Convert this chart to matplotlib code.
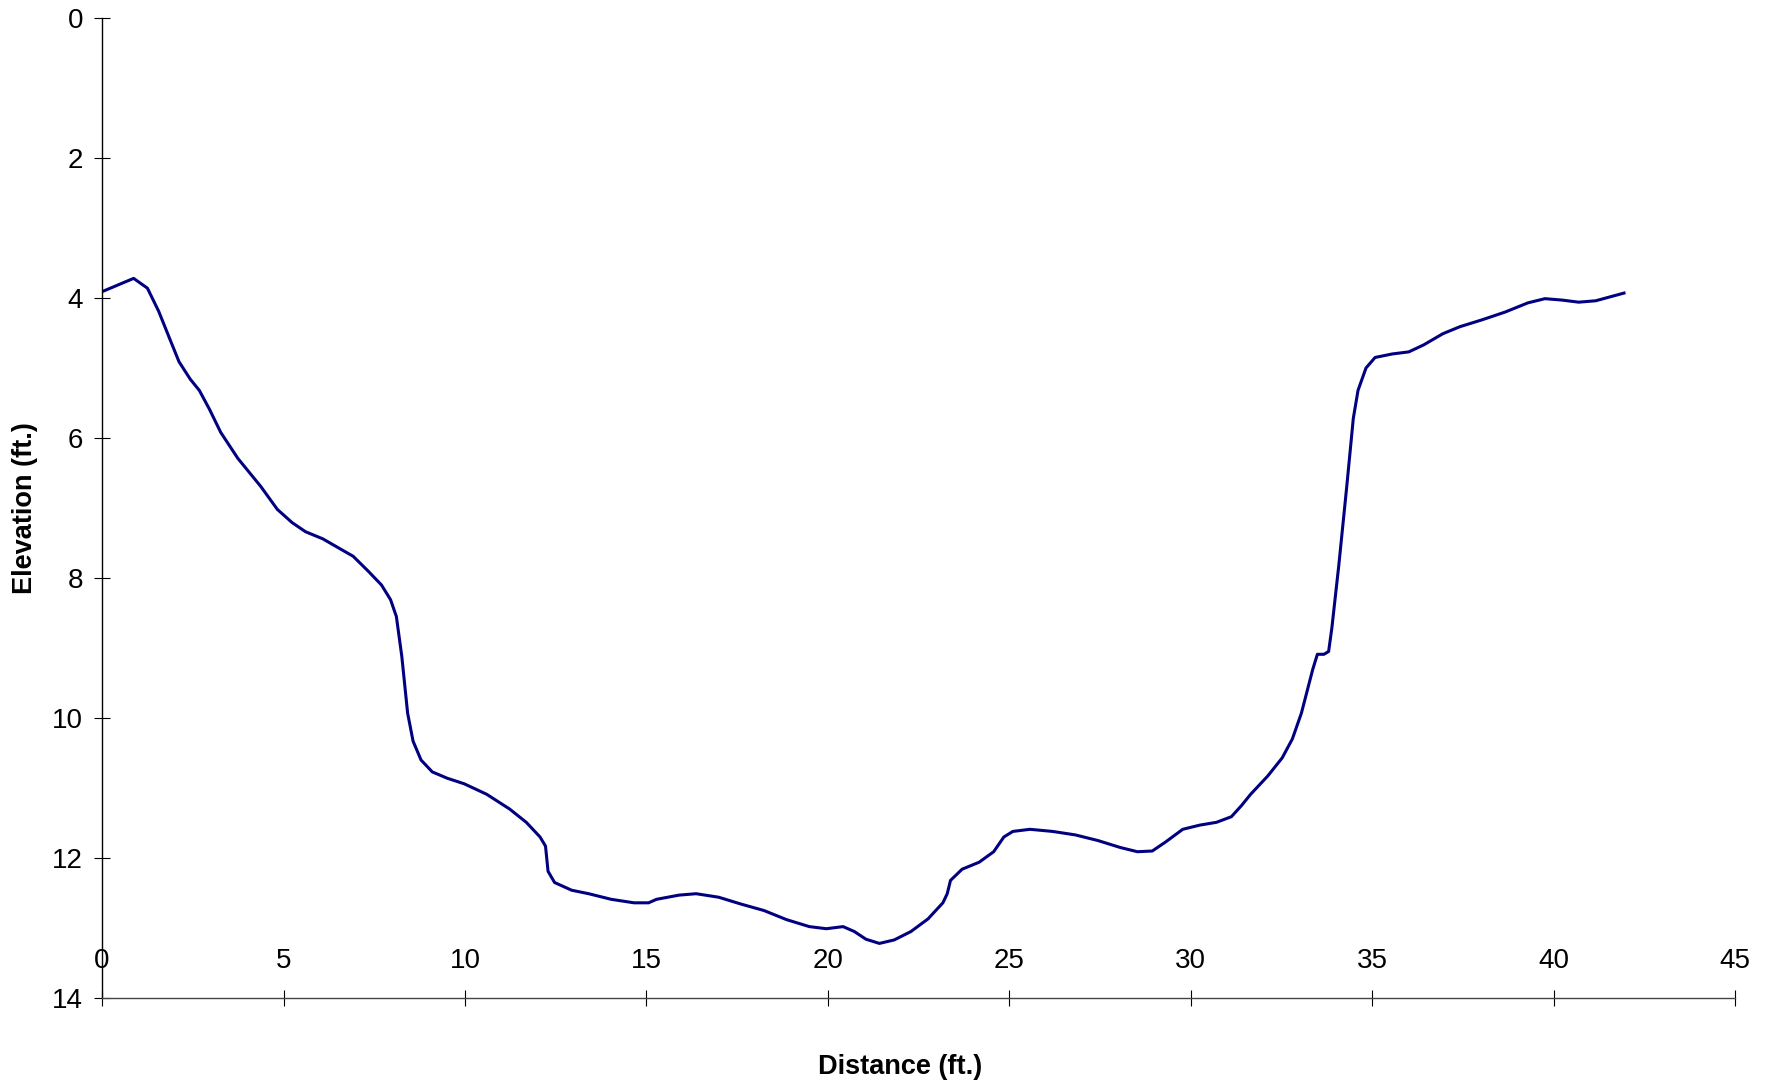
import numpy as np
import matplotlib
matplotlib.use("Agg")
from matplotlib import pyplot as plt

# cross-section profile
distance = [0.00, 0.87, 1.25, 1.56, 1.87, 2.12, 2.43, 2.68, 2.96, 3.27, 3.74, 4.37,
            4.83, 5.24, 5.61, 6.08, 6.55, 6.92, 7.33, 7.70, 7.95, 8.11, 8.26, 8.42,
            8.57, 8.79, 9.10, 9.51, 9.98, 10.60, 11.23, 11.69, 12.07, 12.22, 12.29,
            12.47, 12.94, 13.41, 14.03, 14.66, 15.06, 15.28, 15.90, 16.37, 16.99,
            17.62, 18.24, 18.86, 19.49, 19.96, 20.42, 20.73, 21.05, 21.42, 21.83,
            22.29, 22.76, 23.17, 23.29, 23.38, 23.70, 24.17, 24.57, 24.85, 25.10,
            25.57, 26.19, 26.82, 27.44, 28.06, 28.53, 28.94, 29.31, 29.78, 30.25,
            30.71, 31.12, 31.40, 31.65, 32.12, 32.52, 32.80, 33.05, 33.36, 33.49,
            33.67, 33.80, 33.89, 34.08, 34.30, 34.48, 34.61, 34.83, 35.08, 35.55,
            36.01, 36.42, 36.95, 37.42, 38.04, 38.67, 39.29, 39.76, 40.23, 40.69,
            41.16, 41.94]
elevation = [3.91, 3.72, 3.86, 4.19, 4.59, 4.91, 5.16, 5.32, 5.59, 5.92, 6.29, 6.69,
             7.02, 7.21, 7.34, 7.44, 7.58, 7.69, 7.90, 8.10, 8.31, 8.55, 9.12, 9.93,
             10.33, 10.60, 10.77, 10.86, 10.94, 11.09, 11.30, 11.49, 11.70, 11.83, 12.19,
             12.35, 12.46, 12.51, 12.59, 12.64, 12.64, 12.59, 12.53, 12.51, 12.56,
             12.66, 12.75, 12.88, 12.98, 13.01, 12.98, 13.05, 13.16, 13.22, 13.17,
             13.05, 12.87, 12.64, 12.51, 12.32, 12.16, 12.06, 11.91, 11.70, 11.62,
             11.59, 11.62, 11.67, 11.75, 11.85, 11.91, 11.90, 11.77, 11.59, 11.53,
             11.49, 11.41, 11.25, 11.09, 10.83, 10.57, 10.30, 9.93, 9.31, 9.09,
             9.09, 9.05, 8.71, 7.82, 6.69, 5.72, 5.32, 5.00, 4.85, 4.80,
             4.77, 4.67, 4.51, 4.41, 4.31, 4.20, 4.07, 4.01, 4.03, 4.06,
             4.04, 3.93]

xticks = [0, 5, 10, 15, 20, 25, 30, 35, 40, 45]
yticks = [0, 2, 4, 6, 8, 10, 12, 14]

plt.rcParams['font.family'] = ['Liberation Sans', 'DejaVu Sans']

fig = plt.figure(figsize=(17.75, 10.88), dpi=100)
ax = fig.add_axes([0.0575, 0.0827, 0.92, 0.9008])

ax.plot(distance, elevation, color='#000080', lw=2.2, solid_joinstyle='round')

ax.set_xlim(0, 45)
ax.set_ylim(14, 0)
ax.set_xticks(xticks)
ax.set_yticks(yticks)

for s in ['top', 'right']:
    ax.spines[s].set_visible(False)
ax.spines['left'].set_linewidth(1.0)
ax.spines['bottom'].set_linewidth(1.0)
ax.spines['bottom'].set_color('#444444')

ax.tick_params(axis='y', direction='inout', length=11.5, width=0.8, pad=8, labelsize=20)
ax.tick_params(axis='x', direction='inout', length=11.5, width=0.8, pad=-42, labelsize=20)

ax.set_xlabel('Distance (ft.)', fontsize=19.5, fontweight='bold')
ax.set_ylabel('Elevation (ft.)', fontsize=19.5, fontweight='bold')
ax.xaxis.set_label_coords(0.489, -0.0704)
ax.xaxis.label.set_va('center')
ax.yaxis.set_label_coords(-0.047, 0.5)
ax.yaxis.label.set_va('center')

fig.savefig('out.png', dpi=100)
